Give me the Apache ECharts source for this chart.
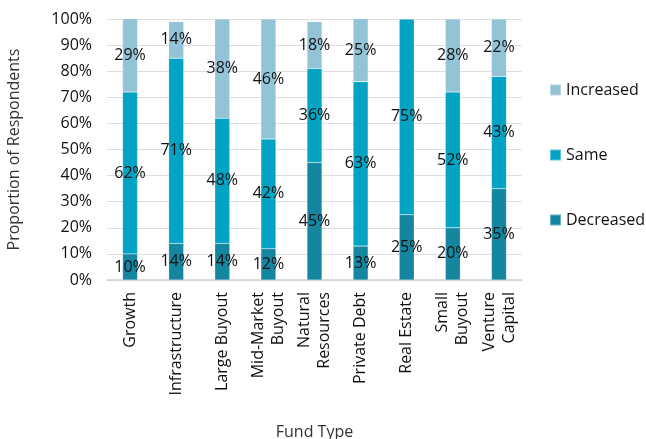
<!DOCTYPE html>
<html>
<head>
<meta charset="utf-8">
<script src="https://cdn.jsdelivr.net/npm/echarts@6/dist/echarts.min.js"></script>
<style>
  html, body { margin: 0; padding: 0; background: #fff; overflow: hidden; }
  #chart { width: 646px; height: 439px; }
</style>
</head>
<body>
<div id="chart"></div>
<script>
// Fund types on the category axis
const categories = [
  'Growth', 'Infrastructure', 'Large Buyout', 'Mid-Market\nBuyout',
  'Natural\nResources', 'Private Debt', 'Real Estate', 'Small\nBuyout', 'Venture\nCapital'
];
// Share of respondents (%) per fund type
const decreased = [10, 14, 14, 12, 45, 13, 25, 20, 35];
const same      = [62, 71, 48, 42, 36, 63, 75, 52, 43];
const increased = [29, 14, 38, 46, 18, 25, 0, 28, 22];
const yTicks = [0, 10, 20, 30, 40, 50, 60, 70, 80, 90, 100];

const FONT = '"Open Sans", "Noto Sans", sans-serif';
const FS = 16;
const colors = { Increased: '#93c3d6', Same: '#03a3c4', Decreased: '#15869f' };

function seriesFor(name, values) {
  return {
    name: name,
    type: 'bar',
    stack: 'total',
    barWidth: 15,
    data: values,
    itemStyle: { color: colors[name], borderColor: 'rgba(255,255,255,0.35)', borderWidth: 0.5 },
    label: {
      show: true,
      position: 'inside',
      color: '#111',
      fontFamily: FONT,
      fontSize: FS,
      formatter: p => (p.value ? p.value + '%' : '')
    }
  };
}

const chart = echarts.init(document.getElementById('chart'), null, { renderer: 'canvas' });
chart.setOption({
  animation: false,
  textStyle: { fontFamily: FONT },
  grid: { left: 107, right: 124, top: 19, bottom: 159, outerBoundsMode: 'none', containLabel: false },
  legend: {
    orient: 'vertical',
    left: 544,
    top: 77,
    itemWidth: 11,
    itemHeight: 11,
    itemGap: 49,
    icon: 'rect',
    textStyle: { fontFamily: FONT, fontSize: FS, color: '#111', padding: [0, 0, 0, 0] },
    data: ['Increased', 'Same', 'Decreased']
  },
  xAxis: {
    type: 'category',
    data: categories,
    name: 'Fund Type',
    nameLocation: 'middle',
    nameGap: 144,
    nameTextStyle: { fontFamily: FONT, fontSize: FS, color: '#333' },
    axisLine: { lineStyle: { color: '#cfcfcf', width: 1.5 } },
    axisTick: { show: false },
    axisLabel: {
      rotate: 90,
      interval: 0,
      margin: 12,
      fontFamily: FONT,
      fontSize: FS,
      color: '#111',
      lineHeight: 20
    }
  },
  yAxis: {
    type: 'value',
    min: yTicks[0],
    max: yTicks[yTicks.length - 1],
    interval: 10,
    name: 'Proportion of Respondents',
    nameLocation: 'middle',
    nameGap: 85,
    nameTextStyle: { fontFamily: FONT, fontSize: FS, color: '#333' },
    axisLine: { show: false },
    axisTick: { show: false },
    splitLine: { lineStyle: { color: '#dedede', width: 1 } },
    axisLabel: {
      margin: 15,
      fontFamily: FONT,
      fontSize: FS,
      color: '#111',
      formatter: v => v + '%'
    }
  },
  series: [
    seriesFor('Decreased', decreased),
    seriesFor('Same', same),
    seriesFor('Increased', increased)
  ]
});
</script>
</body>
</html>
